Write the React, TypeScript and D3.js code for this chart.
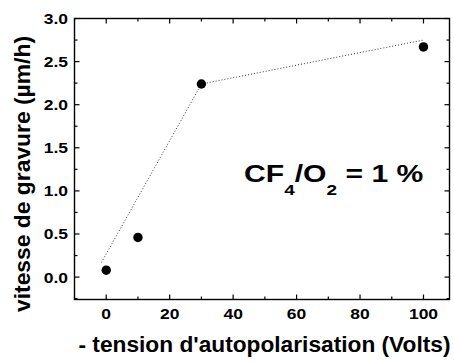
import React from "react";
import * as d3 from "d3";

const biasVolts = [0, 10, 30, 100];
const etchRate = [0.08, 0.46, 2.24, 2.67];
const fitX = [-1.5, 30, 100];
const fitY = [0.17, 2.24, 2.75];
const xMajorTicks = [0, 20, 40, 60, 80, 100];
const xMinorTicks = [-10, 10, 30, 50, 70, 90];
const yMajorTicks = [0.0, 0.5, 1.0, 1.5, 2.0, 2.5, 3.0];
const yMinorTicks = [-0.25, 0.25, 0.75, 1.25, 1.75, 2.25, 2.75];

const W = 454, H = 361;
const L = 74.5, R = 449.5, T = 18.5, B = 299.5;

export default function App() {
  const x = d3.scaleLinear().domain([-10, 108.2]).range([L, R]);
  const y = d3.scaleLinear().domain([-0.26, 3.0]).range([B, T]);
  const line = d3.line<number>().x((d, i) => x(fitX[i])).y((d, i) => y(fitY[i]));
  const txt: React.CSSProperties = { fontFamily: "'Liberation Sans', Arial, sans-serif", fontWeight: 700 };
  const maj = 5, mnr = 3;
  const tsx = 1.25;
  return (
    <svg width={W} height={H} style={{ position: "absolute", left: 0, top: 0 }}>
      <rect x={0} y={0} width={W} height={H} fill="#fff" />
      <path d={line(fitY) || ""} fill="none" stroke="#333" strokeWidth={1} strokeDasharray="1,2" />
      {biasVolts.map((v, i) => (
        <circle key={i} cx={x(v)} cy={y(etchRate[i])} r={4.7} fill="#000" />
      ))}
      <rect x={L} y={T} width={R - L} height={B - T} fill="none" stroke="#000" strokeWidth={1.4} />
      {xMajorTicks.map((t) => (
        <g key={"xm" + t}>
          <line x1={x(t)} x2={x(t)} y1={B} y2={B - maj} stroke="#000" strokeWidth={1.2} />
          <line x1={x(t)} x2={x(t)} y1={T} y2={T + maj} stroke="#000" strokeWidth={1.2} />
          <text transform={`translate(${x(t)},318.5) scale(${tsx},1)`} textAnchor="middle" style={{ ...txt, fontSize: 14 }}>{t}</text>
        </g>
      ))}
      {xMinorTicks.map((t) => (
        <g key={"xn" + t}>
          <line x1={x(t)} x2={x(t)} y1={B} y2={B - mnr} stroke="#000" strokeWidth={1.2} />
          <line x1={x(t)} x2={x(t)} y1={T} y2={T + mnr} stroke="#000" strokeWidth={1.2} />
        </g>
      ))}
      {yMajorTicks.map((t) => (
        <g key={"ym" + t}>
          <line x1={L} x2={L + maj} y1={y(t)} y2={y(t)} stroke="#000" strokeWidth={1.2} />
          <line x1={R} x2={R - maj} y1={y(t)} y2={y(t)} stroke="#000" strokeWidth={1.2} />
          <text transform={`translate(68,${y(t) + 5.5}) scale(${tsx},1)`} textAnchor="end" style={{ ...txt, fontSize: 14 }}>{t.toFixed(1)}</text>
        </g>
      ))}
      {yMinorTicks.map((t) => (
        <g key={"yn" + t}>
          <line x1={L} x2={L + mnr} y1={y(t)} y2={y(t)} stroke="#000" strokeWidth={1.2} />
          <line x1={R} x2={R - mnr} y1={y(t)} y2={y(t)} stroke="#000" strokeWidth={1.2} />
        </g>
      ))}
      <text x={264.5} y={352} textAnchor="middle" textLength={372} lengthAdjust="spacingAndGlyphs" style={{ ...txt, fontSize: 22.5 }}>- tension d'autopolarisation (Volts)</text>
      <text transform={`translate(30,174) rotate(-90)`} textAnchor="middle" textLength={276} lengthAdjust="spacingAndGlyphs" style={{ ...txt, fontSize: 21.5 }}>vitesse de gravure (µm/h)</text>
      <g transform="translate(244,182) scale(1.31,1)">
        <text x={0} y={0} style={{ ...txt, fontSize: 23 }}>
          CF<tspan style={{ fontSize: 14.5 }} dy={13}>4</tspan><tspan style={{ fontSize: 23 }} dy={-13}>/O</tspan><tspan style={{ fontSize: 14.5 }} dy={13}>2</tspan><tspan style={{ fontSize: 23 }} dy={-13}> = 1 %</tspan>
        </text>
      </g>
    </svg>
  );
}
